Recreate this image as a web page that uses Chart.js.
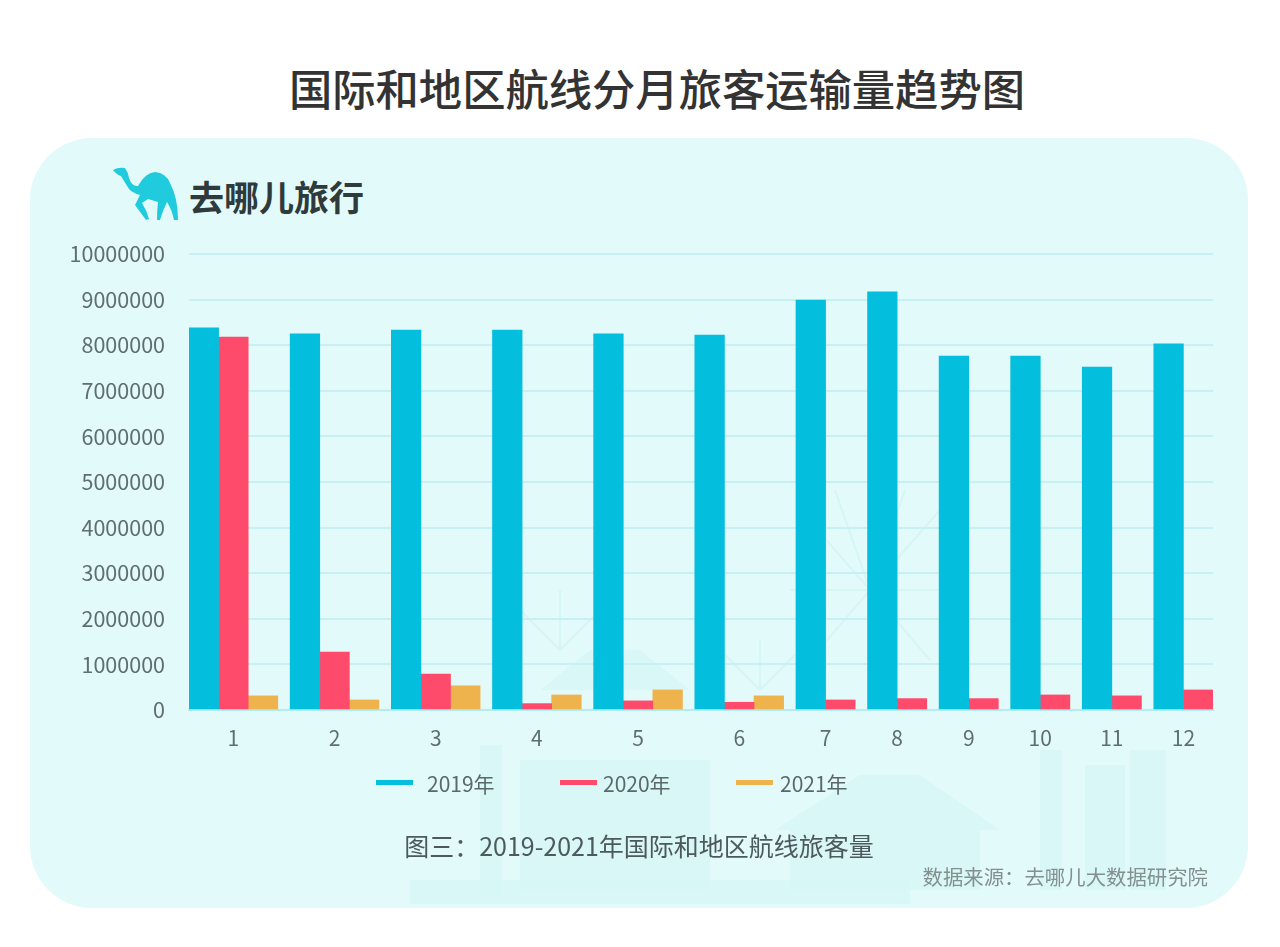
<!DOCTYPE html>
<html lang="zh">
<head>
<meta charset="utf-8">
<title>国际和地区航线分月旅客运输量趋势图</title>
<script src="https://cdn.jsdelivr.net/npm/chart.js@4/dist/chart.umd.js"></script>
<style>
  html, body { margin: 0; padding: 0; background: #fff; }
  body { position: relative; width: 1280px; height: 947px; overflow: hidden; font-family: "Noto Sans CJK SC", sans-serif; }
  .panel { position: absolute; left: 30px; top: 138px; width: 1218px; height: 770px; border-radius: 62px; background: #e3fafa; }
  .art { position: absolute; left: 0; top: 0; }
  canvas { position: absolute; left: 0; top: 0; }
  .abs { position: absolute; white-space: nowrap; }
  h1 { margin: 0; left: 0; width: 1314px; text-align: center; top: 55px; line-height: 64px; font-size: 43.3px; font-weight: 500; color: #333; }
  .brand { left: 189px; top: 170px; line-height: 52px; font-size: 35px; font-weight: 700; color: #2f3a3c; }
  .caption { left: 0; width: 1278px; text-align: center; top: 826px; line-height: 38px; font-size: 25px; color: #4d5a5c; }
  .source { right: 72px; top: 861px; line-height: 30px; font-size: 20.4px; color: #82908f; }
  #legend { position: absolute; top: 766px; left: 0; height: 34px; width: 1280px; font-size: 21px; color: #5a6869; }
  .item { position: absolute; top: 0; line-height: 34px; }
  .item i { position: absolute; top: 14px; width: 37px; height: 5px; left: -50px; }
</style>
</head>
<body>
<div class="panel"></div>
<svg class="art" width="1280" height="947" fill="none" stroke="#d2f3f3" stroke-width="2">
  <!-- faint backdrop -->
  <g stroke-opacity="0.75">
    <path d="M870 590V470M870 590L800 510M870 590L940 510M870 590L790 590M870 590L955 590M870 590L810 660M870 590L930 660M870 590L835 490M870 590L905 490"/>
    <path d="M560 650V590M560 650L520 610M560 650L600 610M760 690V640M760 690L725 655M760 690L795 655"/>
  </g>
  <g fill="#d5f5f5" stroke="none" fill-opacity="0.7">
    <path d="M540 690L590 650L640 650L690 690Z"/>
    <rect x="520" y="760" width="190" height="130"/>
    <rect x="480" y="745" width="22" height="150"/>
    <path d="M775 830L860 775L920 775L1000 830Z"/>
    <rect x="790" y="830" width="190" height="60"/>
    <rect x="1040" y="750" width="22" height="140"/>
    <rect x="1085" y="765" width="40" height="125"/>
    <rect x="1130" y="750" width="36" height="140"/>
    <rect x="410" y="880" width="500" height="24"/>
  </g>
  <path fill="#1fcbdc" stroke="none" d="M113 170Q118 167 125 168Q128 172 129 178Q132 187 138 186Q145 173 155 172Q166 173 170 183Q178 198 178 220L174 220Q172 210 167 202Q163 210 160 220L157 220Q157 210 158 202L148 199L142 203Q147 211 149 219L146 220L135 205L140 195Q133 193 129 189Q124 181 121 176Q117 175 113 170Z"/>
</svg>
<h1 class="abs">国际和地区航线分月旅客运输量趋势图</h1>
<div class="abs brand">去哪儿旅行</div>
<canvas id="chart" width="1280" height="947"></canvas>
<div id="legend"></div>
<div class="abs caption">图三：2019-2021年国际和地区航线旅客量</div>
<div class="abs source">数据来源：去哪儿大数据研究院</div>

<script>
const months = ['1', '2', '3', '4', '5', '6', '7', '8', '9', '10', '11', '12'];
const yearLabels = ['2019年', '2020年', '2021年'];
const values2019 = [8380000, 8250000, 8330000, 8330000, 8250000, 8220000, 8990000, 9170000, 7760000, 7760000, 7520000, 8030000];
const values2020 = [8180000, 1270000, 790000, 140000, 200000, 170000, 220000, 250000, 250000, 330000, 310000, 440000];
const values2021 = [310000, 220000, 530000, 330000, 440000, 310000, null, null, null, null, null, null];

const BAR_WIDTH = 29.6;
const FONT = '"Noto Sans CJK SC", sans-serif';
const TICK_COLOR = '#5f6e6f';

// months without 2021 data have only two bars, so their slot is narrower
const barCounts = months.map((m, i) =>
    [values2019, values2020, values2021].filter(s => s[i] !== null).length);
const totalBars = barCounts.reduce((a, b) => a + b, 0);

class MonthScale extends Chart.CategoryScale {
    static id = 'monthScale';
    static defaults = Chart.CategoryScale.defaults;

    getPixelForValue(value) {
        if (typeof value !== 'number') {
            value = this.parse(value);
        }
        const gap = (this.width - totalBars * BAR_WIDTH) / (months.length - 1);
        let x = this.left;
        for (let i = 0; i < value; i++) {
            x += barCounts[i] * BAR_WIDTH + gap;
        }
        return x + barCounts[value] * BAR_WIDTH / 2;
    }
}
Chart.register(MonthScale);

const chart = new Chart(document.getElementById('chart'), {
    type: 'bar',
    data: {
        labels: months,
        datasets: [
            { label: yearLabels[0], data: values2019, backgroundColor: '#04bedd', barThickness: BAR_WIDTH, skipNull: true },
            { label: yearLabels[1], data: values2020, backgroundColor: '#ff4b6b', barThickness: BAR_WIDTH, skipNull: true },
            { label: yearLabels[2], data: values2021, backgroundColor: '#efb34d', barThickness: BAR_WIDTH, skipNull: true }
        ]
    },
    options: {
        responsive: false,
        animation: false,
        events: [],
        layout: { padding: { top: 254, right: 67, bottom: 197, left: 0 } },
        plugins: {
            legend: { display: false },
            tooltip: { enabled: false }
        },
        scales: {
            x: {
                type: 'monthScale',
                afterFit: scale => { scale.height = 40; },
                grid: { display: false },
                border: { color: '#b4ecf0', width: 2 },
                ticks: { autoSkip: false, maxRotation: 0, padding: 7, color: TICK_COLOR, font: { family: FONT, size: 21 } }
            },
            y: {
                min: 0,
                max: 10000000,
                afterFit: scale => { scale.width = 189; },
                grid: { color: '#c6f0f3', lineWidth: 2, drawTicks: false },
                border: { display: false },
                ticks: {
                    stepSize: 1000000,
                    padding: 24,
                    color: TICK_COLOR,
                    font: { family: FONT, size: 21.5 },
                    callback: value => String(value)
                }
            }
        }
    }
});

// legend is laid out in the page so the items can sit where the original has them
const legendLeft = [427, 603, 780];
const legendLine = [-51, -43, -44];
chart.data.datasets.forEach((ds, i) => {
    const item = document.createElement('div');
    item.className = 'item';
    item.style.left = legendLeft[i] + 'px';
    const swatch = document.createElement('i');
    swatch.style.background = ds.backgroundColor;
    swatch.style.left = legendLine[i] + 'px';
    item.appendChild(swatch);
    item.appendChild(document.createTextNode(ds.label));
    document.getElementById('legend').appendChild(item);
});
</script>
</body>
</html>
